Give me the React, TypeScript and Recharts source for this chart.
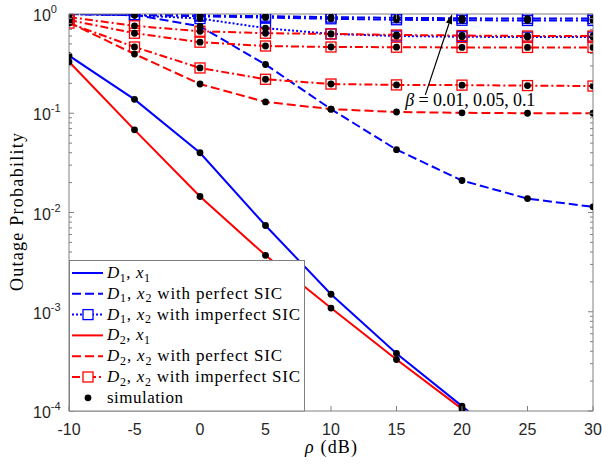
import React from "react";
import { LineChart, Line, XAxis, YAxis, ReferenceLine } from "recharts";

// transmit SNR in dB
const snr = [-10, -5, 0, 5, 10, 15, 20, 25, 30];

// D1 curves
const d1x1 = [0.38, 0.138, 0.04, 0.0074, 0.0015, 0.00038, 0.000112, 0.000032, 0.0000095];
const d1x2Perfect = [1.0, 0.98, 0.75, 0.31, 0.11, 0.043, 0.021, 0.0138, 0.0114];
const d1x2Beta01 = [1.0, 0.985, 0.97, 0.95, 0.93, 0.915, 0.905, 0.9, 0.9];
const d1x2Beta005 = [1.0, 0.975, 0.95, 0.92, 0.895, 0.875, 0.865, 0.86, 0.86];
const d1x2Beta001 = [1.0, 0.97, 0.9, 0.72, 0.63, 0.6, 0.59, 0.585, 0.585];

// D2 curves
const d2x1 = [0.33, 0.068, 0.0145, 0.0037, 0.00109, 0.00033, 0.000105, 0.000033, 0.0000105];
const d2x2Perfect = [0.82, 0.395, 0.197, 0.13, 0.11, 0.103, 0.101, 0.1, 0.1];
const d2x2Beta01 = [0.93, 0.76, 0.67, 0.64, 0.63, 0.615, 0.607, 0.6, 0.6];
const d2x2Beta005 = [0.87, 0.64, 0.52, 0.476, 0.465, 0.463, 0.46, 0.46, 0.46];
const d2x2Beta001 = [0.81, 0.465, 0.286, 0.22, 0.197, 0.193, 0.192, 0.19, 0.188];

const xTicks = [-10, -5, 0, 5, 10, 15, 20, 25, 30];
const decades = [1e-4, 1e-3, 1e-2, 1e-1, 1];
const minorSteps = [2, 3, 4, 5, 6, 7, 8, 9];
const yTicks = [
  ...decades,
  ...decades.slice(0, -1).flatMap((d) => minorSteps.map((m) => m * d)),
].sort((a, b) => a - b);

const rows = snr.map((s, i) => ({
  snr: s,
  d1x1: d1x1[i],
  d1x2p: d1x2Perfect[i],
  d1x2b1: d1x2Beta01[i],
  d1x2b2: d1x2Beta005[i],
  d1x2b3: d1x2Beta001[i],
  d2x1: d2x1[i],
  d2x2p: d2x2Perfect[i],
  d2x2b1: d2x2Beta01[i],
  d2x2b2: d2x2Beta005[i],
  d2x2b3: d2x2Beta001[i],
}));

const BLUE = "#0000ff";
const RED = "#ff0000";
const AXIS = "#808080";
const INK = "#262626";
const SERIF = "'Liberation Serif', 'Times New Roman', serif";
const SANS = "'Liberation Sans', Arial, sans-serif";
const DASH = "9 4";
const DASHDOT = "8 3 2 3";
const DOT = "2 2";

const series = [
  { key: "d1x1", color: BLUE },
  { key: "d1x2p", color: BLUE, dash: DASH },
  { key: "d1x2b1", color: BLUE, dash: DASHDOT, square: true },
  { key: "d1x2b2", color: BLUE, dash: DASHDOT, square: true },
  { key: "d1x2b3", color: BLUE, dash: DOT, square: true },
  { key: "d2x1", color: RED },
  { key: "d2x2p", color: RED, dash: DASH },
  { key: "d2x2b1", color: RED, dash: DASHDOT, square: true },
  { key: "d2x2b2", color: RED, dash: DASHDOT, square: true },
  { key: "d2x2b3", color: RED, dash: DASHDOT, square: true },
];

const legendItems = [
  { d: "1", x: "1", rest: "", color: BLUE, w: 43 },
  { d: "1", x: "2", rest: " with perfect SIC", color: BLUE, dash: DASH, w: 175 },
  { d: "1", x: "2", rest: " with imperfect SIC", color: BLUE, dash: DOT, square: true, w: 193 },
  { d: "2", x: "1", rest: "", color: RED, w: 43 },
  { d: "2", x: "2", rest: " with perfect SIC", color: RED, dash: DASH, w: 175 },
  { d: "2", x: "2", rest: " with imperfect SIC", color: RED, dash: DASHDOT, square: true, w: 193 },
];

const isDecade = (v: number) => {
  const l = Math.log10(v);
  return Math.abs(l - Math.round(l)) < 1e-9;
};

const squareDot = (color: string) => (p: any) => (
  <rect
    key={`sq-${p.dataKey}-${p.index}`}
    x={p.cx - 5}
    y={p.cy - 5}
    width={10}
    height={10}
    fill="none"
    stroke={color}
    strokeWidth={1.3}
  />
);

const blackDot = (p: any) => (
  <circle key={`bd-${p.dataKey}-${p.index}`} cx={p.cx} cy={p.cy} r={3.4} fill="#000" />
);

const BottomTick = ({ x, y, payload }: any) => (
  <g>
    <line x1={x} x2={x} y1={y} y2={y - 5} stroke={AXIS} />
    <text x={x} y={y + 24} textAnchor="middle" fontFamily={SANS} fontSize={16} fill={INK}>
      {payload.value}
    </text>
  </g>
);

const TopTick = ({ x, y }: any) => <line x1={x} x2={x} y1={y} y2={y + 5} stroke={AXIS} />;

const LeftTick = ({ x, y, payload }: any) => {
  const v = payload.value;
  const major = isDecade(v);
  return (
    <g>
      <line x1={x} x2={x + (major ? 5 : 3)} y1={y} y2={y} stroke={AXIS} />
      {major && (
        <text x={x - 36} y={y + 7} fontFamily={SANS} fontSize={16} fill={INK}>
          10
          <tspan dy={-8} fontSize={11}>
            {Math.round(Math.log10(v))}
          </tspan>
        </text>
      )}
    </g>
  );
};

const RightTick = ({ x, y, payload }: any) => (
  <line x1={x} x2={x - (isDecade(payload.value) ? 5 : 3)} y1={y} y2={y} stroke={AXIS} />
);

const Arrow = (p: any) => {
  const { x1, y1, x2, y2 } = p;
  const a = Math.atan2(y2 - y1, x2 - x1);
  const len = 10;
  const half = 3.2;
  const bx = x2 - len * Math.cos(a);
  const by = y2 - len * Math.sin(a);
  const nx = -Math.sin(a) * half;
  const ny = Math.cos(a) * half;
  return (
    <g>
      <line x1={x1} y1={y1} x2={bx} y2={by} stroke="#000" strokeWidth={1.2} />
      <polygon points={`${x2},${y2} ${bx + nx},${by + ny} ${bx - nx},${by - ny}`} fill="#000" />
      <text x={x1 - 20} y={y1 + 11} fontFamily={SERIF} fontSize={18} fill="#000" textLength={130}>
        <tspan fontStyle="italic">β</tspan> = 0.01, 0.05, 0.1
      </text>
    </g>
  );
};

function LegendBox() {
  const top = 273;
  const step = 20.8;
  return (
    <svg width={602} height={464} style={{ position: "absolute", left: 0, top: 0, pointerEvents: "none" }}>
      <rect x={69.5} y={260.5} width={235} height={150.5} fill="#fff" stroke={AXIS} />
      {legendItems.map((it, i) => {
        const y = top + i * step;
        return (
          <g key={i}>
            <line x1={72} x2={103} y1={y} y2={y} stroke={it.color} strokeWidth={2} strokeDasharray={it.dash} />
            {it.square && (
              <rect x={83} y={y - 5} width={10} height={10} fill="#fff" stroke={it.color} strokeWidth={1.3} />
            )}
            <text x={107} y={y + 5} fontFamily={SERIF} fontSize={17} fill="#000" textLength={it.w}>
              <tspan fontStyle="italic">D</tspan>
              <tspan fontSize={12} dy={3.5}>{it.d}</tspan>
              <tspan dy={-3.5}>, </tspan>
              <tspan fontStyle="italic">x</tspan>
              <tspan fontSize={12} dy={3.5}>{it.x}</tspan>
              <tspan dy={-3.5}>{it.rest}</tspan>
            </text>
          </g>
        );
      })}
      <circle cx={88} cy={top + 6 * step} r={3.4} fill="#000" />
      <text x={107} y={top + 6 * step + 5} fontFamily={SERIF} fontSize={17} fill="#000" textLength={76}>
        simulation
      </text>
    </svg>
  );
}

export default function App() {
  return (
    <div style={{ position: "absolute", left: 0, top: 0, width: 602, height: 464, background: "#fff" }}>
      <LineChart width={602} height={464} data={rows} margin={{ top: 13, right: 0, bottom: 0, left: 0 }}>
        <XAxis
          dataKey="snr"
          type="number"
          domain={[-10, 30]}
          ticks={xTicks}
          interval={0}
          allowDataOverflow
          height={53}
          tickSize={0}
          tickMargin={0}
          tickLine={false}
          tick={BottomTick}
          axisLine={{ stroke: AXIS }}
        />
        <XAxis
          xAxisId="top"
          orientation="top"
          type="number"
          domain={[-10, 30]}
          ticks={xTicks}
          interval={0}
          allowDataOverflow
          height={1}
          tickSize={0}
          tickMargin={0}
          tickLine={false}
          tick={TopTick}
          axisLine={{ stroke: AXIS }}
        />
        <YAxis
          scale="log"
          type="number"
          domain={[1e-4, 1]}
          allowDataOverflow
          ticks={yTicks}
          interval={0}
          width={69}
          tickSize={0}
          tickMargin={0}
          tickLine={false}
          tick={LeftTick}
          axisLine={{ stroke: AXIS }}
        />
        <YAxis
          yAxisId="right"
          orientation="right"
          scale="log"
          type="number"
          domain={[1e-4, 1]}
          allowDataOverflow
          ticks={yTicks}
          interval={0}
          width={9}
          tickSize={0}
          tickMargin={0}
          tickLine={false}
          tick={RightTick}
          axisLine={{ stroke: AXIS }}
        />
        {series.map((s) => (
          <Line
            key={s.key}
            dataKey={s.key}
            stroke={s.color}
            strokeWidth={2}
            strokeDasharray={s.dash}
            dot={s.square ? squareDot(s.color) : false}
            activeDot={false}
            isAnimationActive={false}
          />
        ))}
        {series.map((s) => (
          <Line
            key={`sim-${s.key}`}
            dataKey={s.key}
            stroke="none"
            dot={blackDot}
            activeDot={false}
            legendType="none"
            isAnimationActive={false}
          />
        ))}
        <ReferenceLine
          segment={[
            { x: 17.2, y: 0.153 },
            { x: 19.25, y: 1 },
          ]}
          ifOverflow="visible"
          shape={Arrow}
        />
        <text x={331} y={453} textAnchor="middle" fontFamily={SERIF} fontSize={18} fill="#000" textLength={52}>
          <tspan fontStyle="italic">ρ</tspan> (dB)
        </text>
        <text
          x={17}
          y={212}
          transform="rotate(-90 17 212)"
          textAnchor="middle"
          dominantBaseline="central"
          fontFamily={SERIF}
          fontSize={18}
          fill="#000"
          textLength={158}
        >
          Outage Probability
        </text>
      </LineChart>
      <LegendBox />
    </div>
  );
}
